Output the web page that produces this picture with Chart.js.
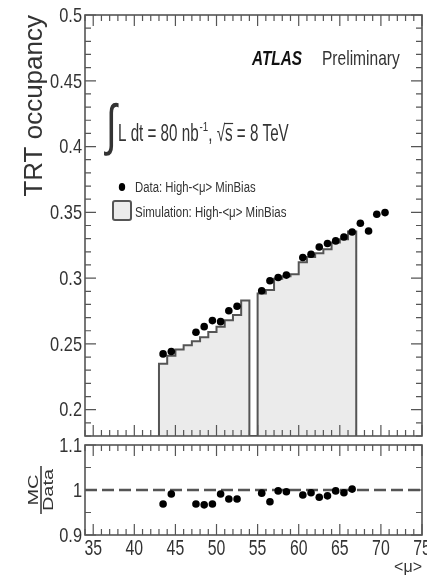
<!DOCTYPE html>
<html>
<head>
<meta charset="utf-8">
<script src="https://cdn.jsdelivr.net/npm/chart.js@4.4.1/dist/chart.umd.min.js"></script>
<style>
  html, body { margin: 0; padding: 0; background: #fff; }
  #wrap { position: relative; width: 427px; height: 578px; overflow: hidden; background: #fff; }
  #topChart { position: absolute; left: 0; top: 0; }
  #ratioChart { position: absolute; left: 0; top: 425px; }
</style>
</head>
<body>
<div id="wrap">
  <canvas id="topChart" width="427" height="440"></canvas>
  <canvas id="ratioChart" width="427" height="153"></canvas>
</div>
<script>
// axis ranges
const muMin = 34, muMax = 75;
const occMin = 0.18, occMax = 0.5;
const ratioMin = 0.9, ratioMax = 1.1;
const ratioRef = 1;

// Data: High-<mu> MinBias (bin centres)
const dataMu = [43.5, 44.5, 47.5, 48.5, 49.5, 50.5, 51.5, 52.5, 55.5, 56.5, 57.5, 58.5,
                60.5, 61.5, 62.5, 63.5, 64.5, 65.5, 66.5, 67.5, 68.5, 69.5, 70.5];
const dataOcc = [0.2424, 0.2442, 0.2589, 0.2631, 0.2677, 0.2669, 0.2752, 0.2786, 0.2904, 0.2980, 0.3005, 0.3023,
                 0.3157, 0.3182, 0.3237, 0.3263, 0.3283, 0.3313, 0.3351, 0.3417, 0.3358, 0.3485, 0.3498];

// Simulation histogram: low edge of each 1-wide bin
const simBinLow = [43, 44, 45, 46, 47, 48, 49, 50, 51, 52, 53,
                   55, 56, 57, 58, 59, 60, 61, 62, 63, 64, 65, 66];
const simOcc = [0.2350, 0.2410, 0.2457, 0.2490, 0.2520, 0.2550, 0.2590, 0.2630, 0.2680, 0.2720, 0.2830,
                0.2884, 0.2910, 0.2995, 0.3015, 0.3030, 0.3120, 0.3160, 0.3190, 0.3220, 0.3270, 0.3295, 0.3355];
const simBinWidth = 1;

// MC / Data
const ratioMu = [43.5, 44.5, 47.5, 48.5, 49.5, 50.5, 51.5, 52.5, 55.5, 56.5, 57.5, 58.5,
                 60.5, 61.5, 62.5, 63.5, 64.5, 65.5, 66.5];
const ratioVal = [0.969, 0.991, 0.969, 0.967, 0.969, 0.991, 0.980, 0.980, 0.993, 0.974, 0.998, 0.996,
                  0.989, 0.994, 0.984, 0.987, 0.998, 0.994, 1.002];

const FONT = '"Liberation Sans", Arial, sans-serif';
const TEXT = '#333';
const LINE = '#555';

function isMult(v, step) {
    return Math.abs(v / step - Math.round(v / step)) < 1e-6;
}

function zeroPad(s) {
    s.paddingLeft = 0; s.paddingRight = 0; s.paddingTop = 0; s.paddingBottom = 0;
}

// step outline of the histogram, dropping to the axis at the ends of each run of bins
function histOutline(lows, vals, width, base) {
    const pts = [];
    for (let i = 0; i < lows.length; i++) {
        const newRun = i === 0 || Math.abs(lows[i - 1] + width - lows[i]) > 1e-9;
        if (newRun) {
            if (i > 0) {
                pts.push({ x: lows[i - 1] + width, y: vals[i - 1] });
                pts.push({ x: lows[i - 1] + width, y: base });
            }
            pts.push({ x: lows[i], y: base });
        }
        pts.push({ x: lows[i], y: vals[i] });
    }
    const last = lows.length - 1;
    pts.push({ x: lows[last] + width, y: vals[last] });
    pts.push({ x: lows[last] + width, y: base });
    return pts;
}

// text drawn a bit condensed, like the squeezed original
function squeezeText(ctx, text, x, y, font, sx, color, align, baseline) {
    ctx.save();
    ctx.font = font;
    ctx.fillStyle = color || TEXT;
    ctx.textBaseline = baseline || 'alphabetic';
    ctx.textAlign = align || 'left';
    ctx.translate(x, y);
    ctx.scale(sx, 1);
    ctx.fillText(text, 0, 0);
    const w = ctx.measureText(text).width * sx;
    ctx.restore();
    return x + w;
}

// ROOT style frame with inward ticks on all four sides, plus the tick labels
const rootFrame = {
    id: 'rootFrame',
    afterDatasetsDraw(chart, args, opts) {
        const { ctx, chartArea: a, scales: { x, y } } = chart;
        ctx.save();
        ctx.strokeStyle = LINE;
        ctx.lineWidth = 1.2;
        ctx.beginPath();
        x.ticks.forEach(t => {
            const px = x.getPixelForValue(t.value);
            const len = isMult(t.value, opts.xMajor) ? opts.major : opts.minor;
            ctx.moveTo(px, a.bottom); ctx.lineTo(px, a.bottom - len);
            ctx.moveTo(px, a.top); ctx.lineTo(px, a.top + len);
        });
        y.ticks.forEach(t => {
            const py = y.getPixelForValue(t.value);
            const len = isMult(t.value, opts.yMajor) ? opts.major : opts.minor;
            ctx.moveTo(a.left, py); ctx.lineTo(a.left + len, py);
            ctx.moveTo(a.right, py); ctx.lineTo(a.right - len, py);
        });
        ctx.stroke();
        ctx.lineWidth = 1.6;
        ctx.strokeRect(a.left, a.top, a.right - a.left, a.bottom - a.top);
        ctx.restore();

        y.ticks.forEach(t => {
            if (!t.label) return;
            squeezeText(ctx, t.label, a.left - 3, y.getPixelForValue(t.value) + 1,
                        '21px ' + FONT, 0.78, TEXT, 'right', 'middle');
        });
        if (opts.xLabels) {
            x.ticks.forEach(t => {
                if (!t.label) return;
                squeezeText(ctx, t.label, x.getPixelForValue(t.value), a.bottom + 20,
                            '22px ' + FONT, 0.72, TEXT, 'center', 'alphabetic');
            });
        }
    }
};

const topTexts = {
    id: 'topTexts',
    afterDraw(chart) {
        const ctx = chart.ctx;
        squeezeText(ctx, 'ATLAS', 252, 65, 'italic bold 21px ' + FONT, 0.73, '#111');
        squeezeText(ctx, 'Preliminary', 322, 65, '21px ' + FONT, 0.74);

        // integrated luminosity and energy
        squeezeText(ctx, '\u222B', 106, 144, '56px ' + FONT, 0.7);
        let cx = squeezeText(ctx, 'L dt = 80 nb', 118, 141, '23px ' + FONT, 0.66);
        cx = squeezeText(ctx, '-1', cx + 1, 131, '13px ' + FONT, 0.75);
        cx = squeezeText(ctx, ', ', cx, 141, '23px ' + FONT, 0.66);
        cx = squeezeText(ctx, '\u221A', cx, 141, '23px ' + FONT, 0.66);
        const sStart = cx;
        cx = squeezeText(ctx, 's', cx, 141, '23px ' + FONT, 0.66);
        ctx.save();
        ctx.strokeStyle = TEXT; ctx.lineWidth = 1.2;
        ctx.beginPath(); ctx.moveTo(sStart - 1, 123.5); ctx.lineTo(cx + 0.5, 123.5); ctx.stroke();
        ctx.restore();
        squeezeText(ctx, ' = 8 TeV', cx, 141, '23px ' + FONT, 0.66);

        // legend
        ctx.save();
        ctx.fillStyle = '#000';
        ctx.beginPath(); ctx.ellipse(122, 187, 3.2, 4, 0, 0, Math.PI * 2); ctx.fill();
        ctx.fillStyle = '#ebebeb'; ctx.strokeStyle = LINE; ctx.lineWidth = 2;
        ctx.beginPath(); ctx.roundRect(113, 201, 18, 19, 2); ctx.fill(); ctx.stroke();
        ctx.restore();
        squeezeText(ctx, 'Data: High-<\u03BC> MinBias', 135, 192, '14px ' + FONT, 0.81);
        squeezeText(ctx, 'Simulation: High-<\u03BC> MinBias', 135, 217, '14px ' + FONT, 0.82);
    }
};

const ratioTexts = {
    id: 'ratioTexts',
    afterDraw(chart) {
        const ctx = chart.ctx;
        ctx.save();
        ctx.translate(41, 65);
        ctx.rotate(-Math.PI / 2);
        ctx.scale(1, 0.75);
        ctx.fillStyle = TEXT;
        ctx.font = '20px ' + FONT;
        ctx.textAlign = 'center';
        ctx.textBaseline = 'alphabetic';
        ctx.fillText('MC', 0, -4);
        ctx.fillText('Data', 0, 16);
        ctx.strokeStyle = TEXT; ctx.lineWidth = 2;
        ctx.beginPath(); ctx.moveTo(-24, 0); ctx.lineTo(24, 0); ctx.stroke();
        ctx.restore();
    }
};

const fmt = v => String(Math.round(v * 100) / 100);

new Chart(document.getElementById('topChart'), {
    type: 'scatter',
    data: {
        datasets: [
            {
                type: 'line',
                label: 'Simulation: High-<\u03BC> MinBias',
                data: histOutline(simBinLow, simOcc, simBinWidth, occMin),
                stepped: 'before',
                borderColor: LINE,
                borderWidth: 2,
                backgroundColor: '#ebebeb',
                fill: 'start',
                pointRadius: 0,
                order: 2
            },
            {
                label: 'Data: High-<\u03BC> MinBias',
                data: dataMu.map((m, i) => ({ x: m, y: dataOcc[i] })),
                pointRadius: 3.8,
                backgroundColor: '#000',
                borderWidth: 0,
                order: 1
            }
        ]
    },
    options: {
        responsive: false,
        animation: false,
        devicePixelRatio: 1,
        layout: { padding: { top: 15, right: 5, left: 0, bottom: 0 } },
        plugins: {
            legend: { display: false },
            tooltip: { enabled: false },
            rootFrame: { xMajor: 5, yMajor: 0.05, major: 11, minor: 6, xLabels: false }
        },
        scales: {
            x: {
                type: 'linear', min: muMin, max: muMax,
                grid: { display: false, drawTicks: false },
                border: { display: false },
                ticks: { display: false, stepSize: 1, autoSkip: false, maxRotation: 0, minRotation: 0 },
                afterFit: s => { s.height = 3; zeroPad(s); }
            },
            y: {
                type: 'linear', min: occMin, max: occMax,
                grid: { display: false, drawTicks: false },
                border: { display: false },
                ticks: {
                    display: false, stepSize: 0.01, autoSkip: false,
                    callback: v => isMult(v, 0.05) ? fmt(v) : ''
                },
                title: {
                    display: true, text: 'TRT occupancy', align: 'end', color: TEXT,
                    font: { family: FONT, size: 26 },
                    padding: { top: 19, bottom: 0 }
                },
                afterFit: s => { s.width = 85; zeroPad(s); }
            }
        }
    },
    plugins: [rootFrame, topTexts]
});

new Chart(document.getElementById('ratioChart'), {
    type: 'scatter',
    data: {
        datasets: [
            {
                type: 'line',
                label: 'reference',
                data: [{ x: muMin, y: ratioRef }, { x: muMax, y: ratioRef }],
                borderColor: LINE,
                borderWidth: 2.5,
                borderDash: [12, 5],
                pointRadius: 0,
                order: 2
            },
            {
                label: 'MC/Data',
                data: ratioMu.map((m, i) => ({ x: m, y: ratioVal[i] })),
                pointRadius: 3.8,
                backgroundColor: '#000',
                borderWidth: 0,
                order: 1
            }
        ]
    },
    options: {
        responsive: false,
        animation: false,
        devicePixelRatio: 1,
        layout: { padding: { top: 20, right: 5, left: 0, bottom: 0 } },
        plugins: {
            legend: { display: false },
            tooltip: { enabled: false },
            rootFrame: { xMajor: 5, yMajor: 0.1, major: 11, minor: 6, xLabels: true }
        },
        scales: {
            x: {
                type: 'linear', min: muMin, max: muMax,
                grid: { display: false, drawTicks: false },
                border: { display: false },
                ticks: {
                    display: false, stepSize: 1, autoSkip: false, maxRotation: 0, minRotation: 0,
                    callback: v => isMult(v, 5) ? String(v) : ''
                },
                title: {
                    display: true, text: '<\u03BC>', align: 'end', color: TEXT,
                    font: { family: FONT, size: 16 },
                    padding: { top: 0, bottom: 1 }
                },
                afterFit: s => { s.height = 43; zeroPad(s); }
            },
            y: {
                type: 'linear', min: ratioMin, max: ratioMax,
                grid: { display: false, drawTicks: false },
                border: { display: false },
                ticks: {
                    display: false, stepSize: 0.05, autoSkip: false,
                    callback: v => isMult(v, 0.1) ? fmt(v) : ''
                },
                afterFit: s => { s.width = 85; zeroPad(s); }
            }
        }
    },
    plugins: [rootFrame, ratioTexts]
});
</script>
</body>
</html>
